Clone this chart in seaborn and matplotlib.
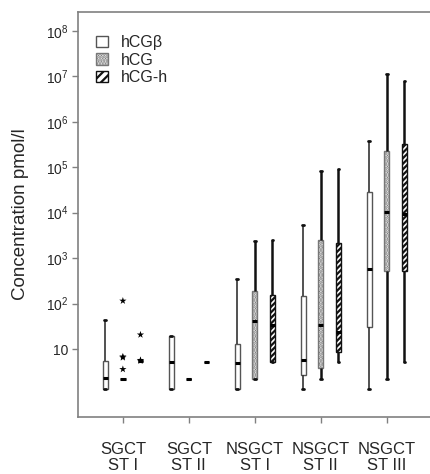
import matplotlib
matplotlib.use("Agg")
import matplotlib.pyplot as plt
from matplotlib.patches import Patch
from matplotlib.ticker import NullLocator
import numpy as np
import pandas as pd
import seaborn as sns

# =========================
# データ
# =========================
stages = ['SGCT\nST I', 'SGCT\nST II', 'NSGCT\nST I', 'NSGCT\nST II', 'NSGCT\nST III']
markers = ['hCGβ', 'hCG', 'hCG-h']

# 各ボックス: (下ひげ, Q1, 中央値, Q3, 上ひげ)  pmol/l
hcg_beta = [
    (1.34, 1.34, 2.33, 5.4, 43),
    (1.35, 1.35, 5.2, 19.6, 19.6),
    (1.34, 1.34, 5.0, 12.9, 350),
    (1.34, 2.7, 5.8, 148, 5400),
    (1.34, 30, 570, 29000, 380000),
]
hcg = [
    (2.2, 2.2, 2.2, 2.2, 2.2),
    (2.2, 2.2, 2.2, 2.2, 2.2),
    (2.2, 2.2, 41, 190, 2400),
    (2.2, 3.9, 33, 2500, 83000),
    (2.2, 520, 10500, 230000, 1.1e7),
]
hcg_h = [
    (5.5, 5.5, 5.5, 5.5, 5.5),
    (5.3, 5.3, 5.3, 5.3, 5.3),
    (5.2, 5.2, 33, 155, 2450),
    (5.3, 8.5, 24, 2200, 91000),
    (5.3, 520, 9400, 330000, 7.8e6),
]

# 外れ値（*）: SGCT ST I のみ
outlier_stage = ['SGCT\nST I'] * 7
outlier_marker = ['hCG', 'hCG', 'hCG', 'hCG', 'hCG-h', 'hCG-h', 'hCG-h']
outlier_value = [115, 6.5, 6.8, 3.6, 20.7, 5.5, 5.7]

# =========================
# long形式に変換
# =========================
rows = []
for name, series in zip(markers, [hcg_beta, hcg, hcg_h]):
    for st, vals in zip(stages, series):
        for v in vals:
            rows.append({'stage': st, 'marker': name, 'value': v})
df = pd.DataFrame(rows)
df_out = pd.DataFrame({'stage': outlier_stage, 'marker': outlier_marker, 'value': outlier_value})

# =========================
# 描画
# =========================
sns.set_style("white")
plt.rcParams['font.family'] = ['Liberation Sans', 'DejaVu Sans']
plt.rcParams['mathtext.fontset'] = 'custom'
plt.rcParams['mathtext.rm'] = 'Liberation Sans'
plt.rcParams['hatch.linewidth'] = 1.6

fig = plt.figure(figsize=(4.31, 4.74), dpi=100)
ax = fig.add_axes([0.181, 0.12, 0.819, 0.855])

GAP = 0.7
sns.boxplot(
    data=df, x='stage', y='value', hue='marker',
    order=stages, hue_order=markers,
    log_scale=True, whis=(0, 100), width=0.8, gap=GAP,
    palette=['white'] * 3, linecolor='#333333', linewidth=1.0,
    showfliers=False, legend=False, ax=ax,
    medianprops=dict(color='black', linewidth=2.2),
    capprops=dict(color='#111111', linewidth=2.0),
)

sns.stripplot(
    data=df_out, x='stage', y='value', hue='marker',
    order=stages, hue_order=markers, dodge=True, jitter=False,
    palette=['black'] * 3, marker='*', size=5.5, linewidth=0,
    legend=False, ax=ax, log_scale=True,
)

slot = 0.8 / 3
box_w = slot * (1 - GAP)
hatch_style = {0: ('', '#555555'), 1: ('......', '#777777'), 2: ('//////', '#111111')}
for p in ax.patches:
    ext = p.get_path().get_extents()
    cx = (ext.x0 + ext.x1) / 2
    k = int(round((cx - round(cx)) / slot)) + 1
    hatch, ec = hatch_style.get(k, ('', '#555555'))
    p.set_hatch(hatch)
    p.set_edgecolor(ec)

# ひげ・キャップの調整
for ln in ax.lines:
    xd = np.asarray(ln.get_xdata(), dtype=float)
    if len(xd) != 2:
        continue
    if xd[0] == xd[1]:
        k = int(round((xd[0] - round(xd[0])) / slot)) + 1
        if k == 0:
            ln.set_linewidth(1.2)
            ln.set_color('#333333')
        else:
            ln.set_linewidth(1.8)
            ln.set_color('#111111')
    elif abs(xd[1] - xd[0]) < box_w * 0.9:
        c = xd.mean()
        ln.set_xdata([c - 0.012, c + 0.012])

ax.set_xlim(-0.68, 4.67)
ax.set_ylim(10 ** -0.497, 10 ** 8.418)
ax.set_yticks([10 ** k for k in range(1, 9)])
ax.set_yticklabels(['10'] + [r'$\mathregular{10^{%d}}$' % k for k in range(2, 9)], fontsize=10)
ax.yaxis.set_minor_locator(NullLocator())
ax.set_xticks(range(len(stages)))
ax.set_xticklabels(stages, fontsize=12, linespacing=1.05)

ax.set_xlabel('')
ax.set_ylabel('Concentration pmol/l', fontsize=13.5, labelpad=12)

for side in ['left', 'bottom', 'top']:
    ax.spines[side].set_color('#808080')
    ax.spines[side].set_linewidth(1.2)
ax.spines['right'].set_visible(False)
ax.tick_params(axis='both', which='major', direction='out', length=4,
               width=1.0, color='#808080', left=True, bottom=True, pad=3)
ax.tick_params(axis='x', pad=14)

legend_handles = [
    Patch(facecolor='white', edgecolor='#555555', label='hCGβ'),
    Patch(facecolor='white', edgecolor='#777777', hatch='......', label='hCG'),
    Patch(facecolor='white', edgecolor='#111111', hatch='////', label='hCG-h'),
]
ax.legend(handles=legend_handles, loc='upper left', bbox_to_anchor=(0.02, 0.97),
          frameon=False, fontsize=11.5, handlelength=0.75, handleheight=0.75,
          handletextpad=0.8, labelspacing=0.15, borderaxespad=0.3)

fig.savefig('out.png', dpi=100)
